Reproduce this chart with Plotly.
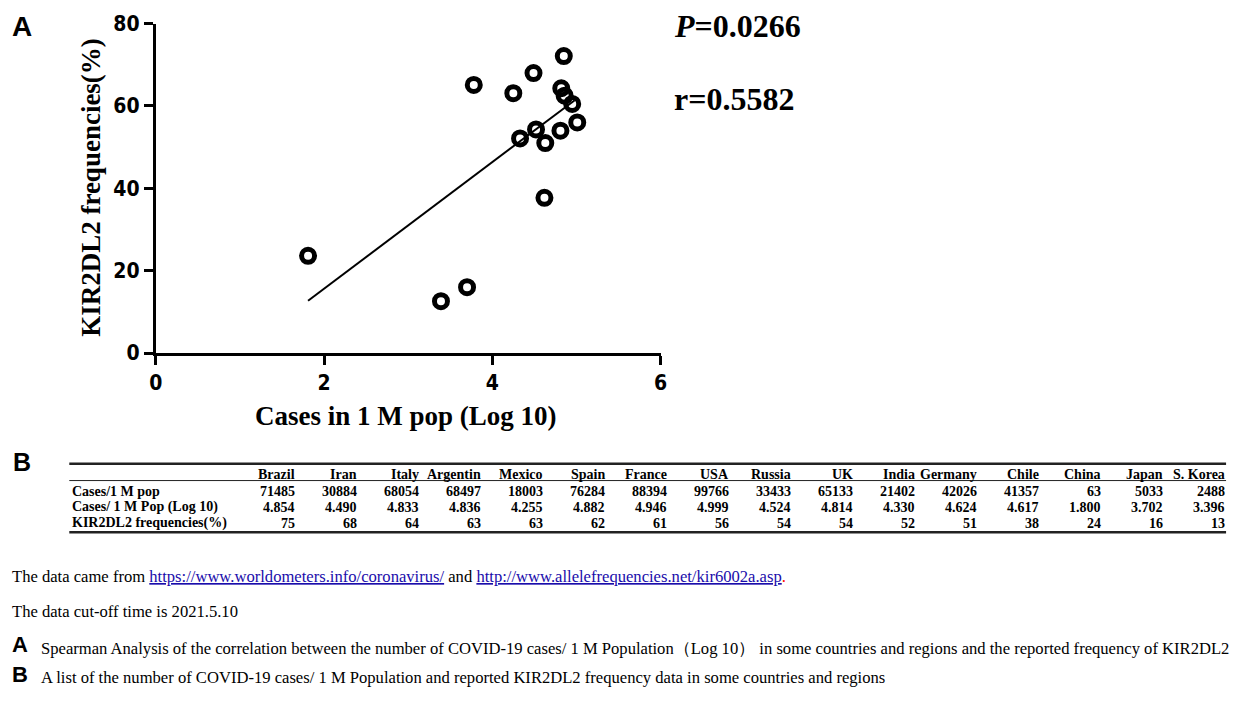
import plotly.graph_objects as go

W, H = 1239, 708

# panel A: points (log10 cases per 1M, KIR2DL2 %)
log_cases = [1.81, 3.39, 3.70, 3.78, 4.25, 4.49, 4.33, 4.52, 4.63, 4.62,
             4.85, 4.82, 4.86, 4.95, 4.81, 5.01]
kir_freq = [23.6, 12.6, 16.0, 65.1, 63.1, 68.0, 52.1, 54.3, 51.0, 37.7,
            72.1, 64.3, 62.5, 60.5, 54.0, 56.0]
# regression line ends, as drawn
fit_x = [1.81, 4.98]
fit_y = [12.7, 61.4]

p_text = "<i>P</i>=0.0266"
r_text = "r=0.5582"

# panel B: table
countries = ["Brazil", "Iran", "Italy", "Argentin", "Mexico", "Spain", "France", "USA",
             "Russia", "UK", "India", "Germany", "Chile", "China", "Japan", "S. Korea"]
cases_per_m = [71485, 30884, 68054, 68497, 18003, 76284, 88394, 99766,
               33433, 65133, 21402, 42026, 41357, 63, 5033, 2488]
cases_log10 = [4.854, 4.490, 4.833, 4.836, 4.255, 4.882, 4.946, 4.999,
               4.524, 4.814, 4.330, 4.624, 4.617, 1.800, 3.702, 3.396]
freq_pct = [75, 68, 64, 63, 63, 62, 61, 56, 54, 54, 52, 51, 38, 24, 16, 13]
row_labels = ["Cases/1 M pop", "Cases/ 1 M Pop (Log 10)", "KIR2DL2 frequencies(%)"]


def px(x):
    return x / W


def py(y):
    return 1 - y / H


SERIF = "Liberation Serif, Times New Roman, serif"
SANS = "Liberation Sans, Arial, sans-serif"
COND = "DejaVu Sans Condensed, Liberation Sans Narrow, Arial Narrow, sans-serif"

fig = go.Figure()

fig.add_trace(go.Scatter(
    x=fit_x, y=fit_y, mode="lines",
    line=dict(color="black", width=2),
    hoverinfo="skip", showlegend=False,
))
fig.add_trace(go.Scatter(
    x=log_cases, y=kir_freq, mode="markers",
    marker=dict(symbol="circle-open", size=13, color="black", line=dict(width=5, color="black")),
    showlegend=False,
))

axis_common = dict(
    showline=True, linewidth=3, linecolor="black",
    ticks="outside", ticklen=9, tickwidth=3, tickcolor="black",
    showgrid=False, zeroline=False,
    tickfont=dict(family=COND, size=21, color="black", weight="bold"),
)

fig.update_layout(
    width=W, height=H,
    margin=dict(l=0, r=0, t=0, b=0),
    paper_bgcolor="white", plot_bgcolor="white",
    xaxis=dict(range=[0, 6], dtick=2, domain=[px(150.5), px(661)], **axis_common),
    yaxis=dict(range=[0, 80], dtick=20, domain=[py(353), py(12)], **axis_common),
    showlegend=False,
    hovermode=False,
)

ann = []


def note(text, x, y, size, family=SERIF, bold=False, xanchor="left", yanchor="middle",
         color="black", angle=0):
    ann.append(dict(
        text=text, x=px(x), y=py(y), xref="paper", yref="paper",
        xanchor=xanchor, yanchor=yanchor, showarrow=False, textangle=angle,
        font=dict(family=family, size=size, color=color, weight="bold" if bold else "normal"),
        borderpad=0,
    ))


# panel A labels
note("A", 4, 15, 28, family=SANS, bold=True)
note(p_text, 674, 15, 32, bold=True)
note(r_text, 674, 90, 32, bold=True)
note("KIR2DL2 frequencies(%)", 85, 182, 27, bold=True, xanchor="center", angle=-90)
note("Cases in 1 M pop (Log 10)", 404, 418, 27, bold=True, xanchor="center")

# panel B table
note("B", 5, 466, 25, family=SANS, bold=True)
row_y = [479, 496, 512.5, 529]
col_right = [292.3 + 62.73 * i for i in range(len(countries))]
for i, c in enumerate(countries):
    note(c, col_right[i], row_y[0], 14, bold=True, xanchor="right")
    note(str(cases_per_m[i]), col_right[i], row_y[1], 14, bold=True, xanchor="right")
    note(f"{cases_log10[i]:.3f}", col_right[i], row_y[2], 14, bold=True, xanchor="right")
    note(str(freq_pct[i]), col_right[i], row_y[3], 14, bold=True, xanchor="right")
for j, lab in enumerate(row_labels):
    note(lab, 65, row_y[j + 1], 14, bold=True)

rules = [(467.5, 2.5), (485, 1), (538.5, 2.5)]
shapes = []
for yy, lw in rules:
    shapes.append(dict(type="line", xref="paper", yref="paper",
                       x0=px(63), x1=px(1233), y0=py(yy), y1=py(yy),
                       line=dict(color="#222", width=lw)))

# captions
link = "<span style='color:#1a0dab'><u>{}</u></span>"
note("The data came from " + link.format("https://www.worldometers.info/coronavirus/")
     + " and " + link.format("http://www.allelefrequencies.net/kir6002a.asp")
     + "<span style='color:red'>.</span>", 4, 584, 16.6)
note("The data cut-off time is 2021.5.10", 4, 621, 16.6)
note("A", 4, 655, 22, family=SANS, bold=True)
note("Spearman Analysis of the correlation between the number of COVID-19 cases/ 1 M Population"
     "（Log 10） in some countries and regions and the reported frequency of KIR2DL2", 33, 659, 16.6)
note("B", 4, 686, 22, family=SANS, bold=True)
note("A list of the number of COVID-19 cases/ 1 M Population and reported KIR2DL2 frequency "
     "data in some countries and regions", 33, 689, 16.6)

fig.update_layout(annotations=ann, shapes=shapes)

# page body has a default margin; drop it so the figure sits at 0,0
fig.write_html("out.html", config={"displayModeBar": False},
               post_script="document.body.style.margin='0';")
